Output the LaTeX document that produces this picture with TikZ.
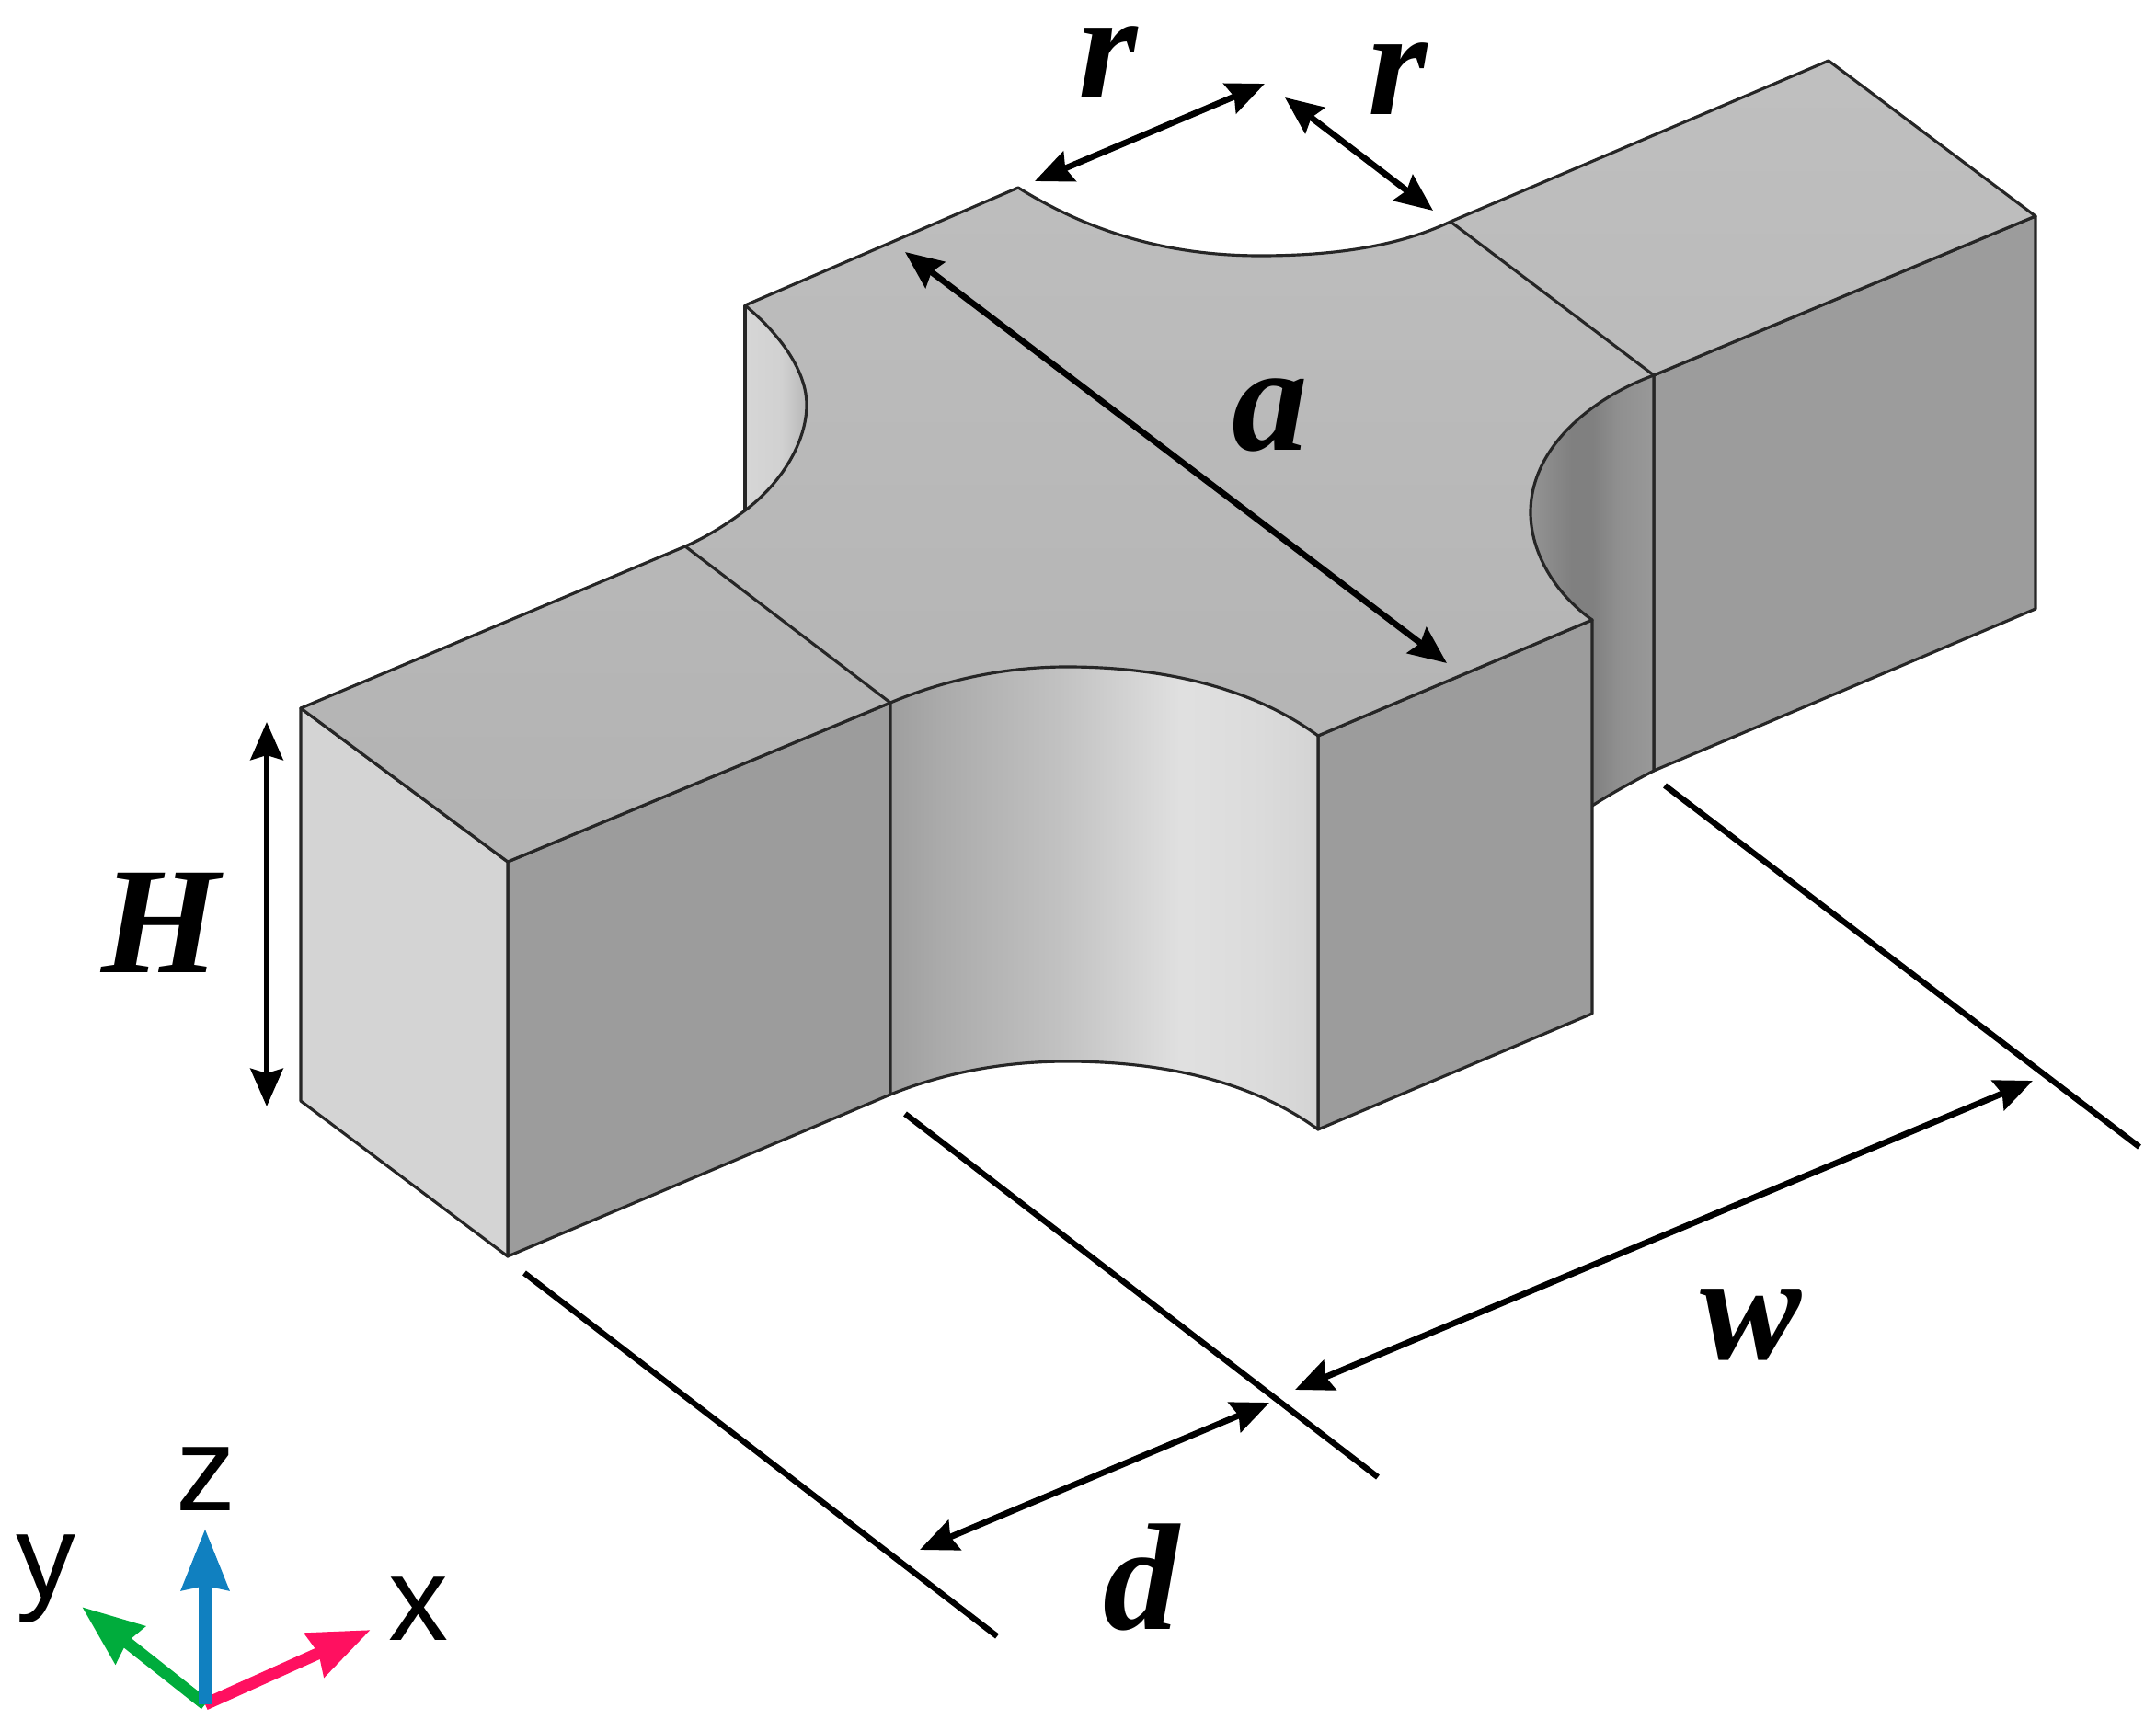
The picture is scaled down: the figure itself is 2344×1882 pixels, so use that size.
\documentclass[tikz,border=0pt]{standalone}
\usepackage{fontspec}
\setmainfont{Liberation Serif}
\newfontfamily\axisfont{Liberation Sans}
\usetikzlibrary{arrows.meta}
\definecolor{axisx}{HTML}{FF1060}
\definecolor{axisy}{HTML}{00AC3C}
\definecolor{axisz}{HTML}{1080C0}
\pgfdeclarehorizontalshading{cutmid}{100bp}{color(0bp)=(black!38); color(25bp)=(black!38); color(31bp)=(black!33); color(45bp)=(black!24); color(59bp)=(black!12); color(68bp)=(black!14); color(75bp)=(black!17); color(100bp)=(black!17)}
\pgfdeclarehorizontalshading{cutright}{100bp}{color(0bp)=(black!42); color(25bp)=(black!42); color(42bp)=(black!50); color(50bp)=(black!50); color(60bp)=(black!44); color(75bp)=(black!40); color(100bp)=(black!40)}
\pgfdeclarehorizontalshading{cutleft}{100bp}{color(0bp)=(black!16); color(25bp)=(black!16); color(55bp)=(black!18); color(75bp)=(black!28); color(100bp)=(black!28)}
\tikzset{
    outline/.style={draw=black!85, line width=0.9pt, line join=round},
    sideface/.style={outline, fill=black!39},
    dimarrow/.style={{Stealth[length=0.41cm,width=0.35cm,inset=0.05cm]}-{Stealth[length=0.41cm,width=0.35cm,inset=0.05cm]}, line width=1.9pt},
    extline/.style={line width=1.8pt},
    dimlabel/.style={font=\fontsize{47}{56}\selectfont\bfseries\itshape, inner sep=0pt},
    axislabel/.style={font=\axisfont\fontsize{37}{44}\selectfont, inner sep=0pt},
    axisarrow/.style={-{Stealth[length=0.66cm,width=0.5cm,inset=0.04cm]}, line width=3.7pt},
}
\begin{document}
\begin{tikzpicture}[x=0.01cm,y=-0.01cm]
    \useasboundingbox (0,0) rectangle (2344,1882);

    \coordinate (endtl) at (327,770);
    \coordinate (endbl) at (327,1197);
    \coordinate (endtr) at (552,937);
    \coordinate (endbr) at (552,1366);
    \coordinate (neckft) at (968,764);
    \coordinate (neckfb) at (968,1190);
    \coordinate (neckbt) at (745,594);
    \coordinate (armft) at (1433,800);
    \coordinate (armfb) at (1433,1228);
    \coordinate (armrt) at (1731,674);
    \coordinate (armrb) at (1731,1102);
    \coordinate (armlow) at (1731,876);
    \coordinate (neckrt) at (1798,408);
    \coordinate (neckrb) at (1798,838);
    \coordinate (necksb) at (1577,241);
    \coordinate (farbt) at (1988,66);
    \coordinate (farrt) at (2213,235);
    \coordinate (farrb) at (2213,662);
    \coordinate (armbr) at (1107,204);
    \coordinate (armbl) at (810,332);
    \coordinate (armbl2) at (810,555);

    \draw[sideface] (endtr) -- (neckft) -- (neckfb) -- (endbr) -- cycle;
    \draw[outline, fill=black!17] (endtl) -- (endtr) -- (endbr) -- (endbl) -- cycle;
    \draw[sideface] (neckrt) -- (farrt) -- (farrb) -- (neckrb) -- cycle;
    \path[shading=cutright] (armrt) .. controls (1690,645) and (1664,600) .. (1664,557)
        .. controls (1664,490) and (1725,435) .. (neckrt) -- (neckrb)
        .. controls (1775,850) and (1753,862) .. (armlow) -- cycle;
    \draw[outline] (neckrt) -- (neckrb) .. controls (1775,850) and (1753,862) .. (armlow);
    \draw[sideface] (armft) -- (armrt) -- (armrb) -- (armfb) -- cycle;
    \path[shading=cutmid] (neckft) .. controls (1030,738) and (1095,725) .. (1160,725)
        .. controls (1270,725) and (1365,750) .. (armft) -- (armfb)
        .. controls (1365,1178) and (1270,1154) .. (1160,1154)
        .. controls (1095,1154) and (1030,1165) .. (neckfb) -- cycle;
    \draw[outline] (neckft) -- (neckfb)
        .. controls (1030,1165) and (1095,1154) .. (1160,1154)
        .. controls (1270,1154) and (1365,1178) .. (armfb) -- (armft);
    \path[shading=cutleft] (armbl) .. controls (850,365) and (877,405) .. (877,440)
        .. controls (877,480) and (850,525) .. (armbl2) -- cycle;
    \draw[outline] (armbl) -- (armbl2);

    \draw[outline, top color=black!25, bottom color=black!30] (endtl) -- (neckbt)
        .. controls (768,584) and (790,570) .. (armbl2)
        .. controls (850,525) and (877,480) .. (877,440)
        .. controls (877,405) and (850,365) .. (armbl)
        -- (armbr)
        .. controls (1200,262) and (1290,278) .. (1370,278)
        .. controls (1450,278) and (1520,268) .. (necksb)
        -- (farbt) -- (farrt) -- (neckrt)
        .. controls (1725,435) and (1664,490) .. (1664,557)
        .. controls (1664,600) and (1690,645) .. (armrt)
        -- (armft)
        .. controls (1365,750) and (1270,725) .. (1160,725)
        .. controls (1095,725) and (1030,738) .. (neckft)
        -- (endtr) -- cycle;
    \draw[outline] (neckbt) -- (neckft);
    \draw[outline] (necksb) -- (neckrt);

    \coordinate (extaa) at (570,1384);
    \coordinate (extab) at (1084,1779);
    \coordinate (extba) at (984,1211);
    \coordinate (extbb) at (1498,1606);
    \coordinate (extca) at (1810,854);
    \coordinate (extcb) at (2326,1247);
    \draw[extline] (extaa) -- (extab);
    \draw[extline] (extba) -- (extbb);
    \draw[extline] (extca) -- (extcb);

    \coordinate (aa) at (984,274);
    \coordinate (ab) at (1573,721);
    \coordinate (ra) at (1125,197);
    \coordinate (rb) at (1375,91);
    \coordinate (sa) at (1397,106);
    \coordinate (sb) at (1558,229);
    \coordinate (ha) at (290,785);
    \coordinate (hb) at (290,1203);
    \coordinate (da) at (1000,1685);
    \coordinate (db) at (1380,1525);
    \coordinate (wa) at (1408,1511);
    \coordinate (wb) at (2210,1175);
    \draw[dimarrow] (aa) -- (ab);
    \draw[dimarrow] (ra) -- (rb);
    \draw[dimarrow] (sa) -- (sb);
    \draw[dimarrow] (ha) -- (hb);
    \draw[dimarrow] (da) -- (db);
    \draw[dimarrow] (wa) -- (wb);

    \node[dimlabel] (rleft) at (1205,68) {r};
    \node[dimlabel] (rright) at (1520,86) {r};
    \node[dimlabel] (alabel) at (1381,451) {a};
    \node[dimlabel] (hlabel) at (175,1003) {H};
    \node[dimlabel] (wlabel) at (1904,1440) {w};
    \node[dimlabel] (dlabel) at (1241,1715) {d};

    \coordinate (origin) at (223,1853);
    \coordinate (tipx) at (403,1772);
    \coordinate (tipy) at (89,1747);
    \coordinate (tipz) at (223,1662);
    \draw[axisarrow, axisy] (origin) -- (tipy);
    \draw[axisarrow, axisx] (origin) -- (tipx);
    \draw[axisarrow, axisz] (origin) -- (tipz);
    \node[axislabel] (xlabel) at (455,1749) {x};
    \node[axislabel] (ylabel) at (50,1717) {y};
    \node[axislabel] (zlabel) at (224,1608) {z};
\end{tikzpicture}
\end{document}
